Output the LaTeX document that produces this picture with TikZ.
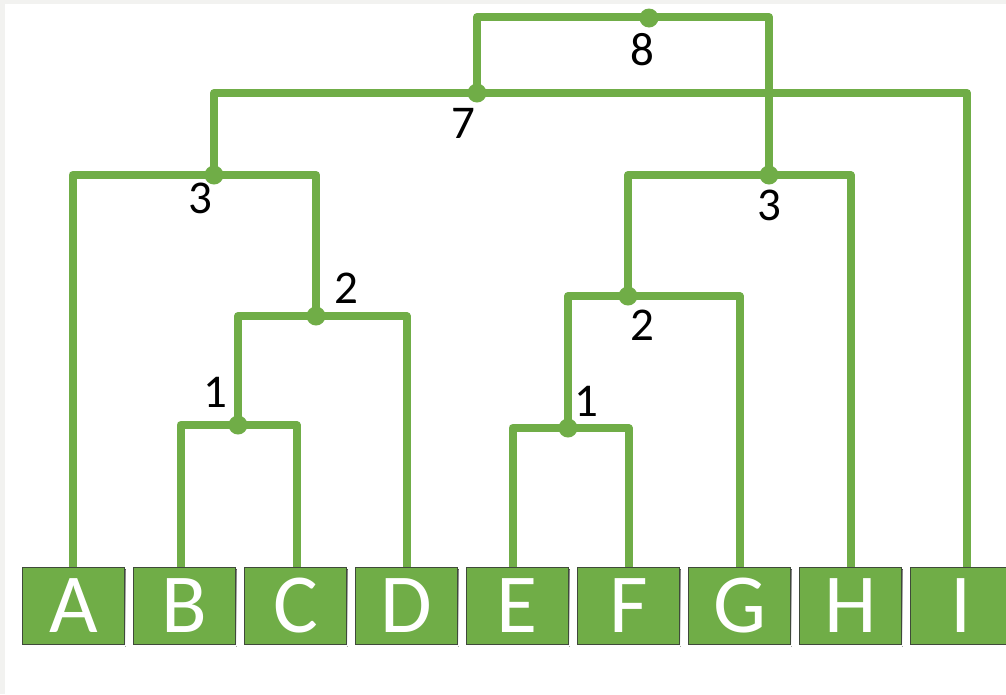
\documentclass[tikz,border=0pt]{standalone}
\usepackage{fontspec}
\setmainfont{Carlito}
\definecolor{leaf}{HTML}{70AD47}
\definecolor{edgegray}{HTML}{3F4A3A}
\definecolor{frame}{HTML}{F2F2F0}
\definecolor{shade}{HTML}{D5DCE6}
\pgfdeclarelayer{paper}
\pgfdeclarelayer{links}
\pgfsetlayers{paper,links,main}
\begin{document}
\begin{tikzpicture}[x=1pt,y=-1pt,
  link/.style={draw=leaf,line width=8pt,line join=round},
  leafbox/.style={rectangle,fill=leaf,draw=edgegray,line width=1.1pt,
    minimum width=101.5pt,minimum height=76.6pt,inner sep=0pt,
    text=white,font=\fontsize{84}{84}\selectfont},
  joint/.style={circle,fill=leaf,inner sep=0pt,minimum size=19pt},
  lvl/.style={font=\fontsize{47}{47}\selectfont,text=black,inner sep=0pt}]
\useasboundingbox (0,0) rectangle (1006,694);
\clip (0,0) rectangle (1006,694);
\begin{pgfonlayer}{paper}
\fill[frame] (0,0) rectangle (1006,694);
\fill[white] (5,4) rectangle (1006,694);
\foreach \i in {0,...,8}{
  \fill[shade] (22.7+111*\i+1.5,569) rectangle (22.7+111*\i+101.5+1.5,646.5);
}
\end{pgfonlayer}
% leaf boxes
\node[leafbox] (A) at (73.5,606) {A};
\node[leafbox] (B) at (184.5,606) {B};
\node[leafbox] (C) at (295.5,606) {C};
\node[leafbox] (D) at (406.5,606) {D};
\node[leafbox] (E) at (517.5,606) {E};
\node[leafbox] (F) at (628.5,606) {F};
\node[leafbox] (G) at (739.5,606) {G};
\node[leafbox] (H) at (850.5,606) {H};
\node[leafbox] (I) at (961.5,606) {I};
% merge points
\node[joint] (m1) at (238,425) {};
\node[joint] (m2) at (316,316) {};
\node[joint] (m3) at (214,175) {};
\node[joint] (m7) at (477,93) {};
\node[joint] (m8) at (649,18) {};
\node[joint] (r1) at (568,428) {};
\node[joint] (r2) at (628,296) {};
\node[joint] (r3) at (769,175) {};
\begin{pgfonlayer}{links}
\draw[link] ([xshift=-4pt]B.north) |- (m1.center) -| ([xshift=1pt]C.north);
\draw[link] (m1.center) |- (m2.center) -| (D.north);
\draw[link] ([xshift=-1pt]A.north) |- (m3.center) -| (m2.center);
\draw[link] (m3.center) |- (m7.center) -| ([xshift=5.5pt]I.north);
\draw[link] ([xshift=-5pt]E.north) |- (r1.center) -| (F.north);
\draw[link] (r1.center) |- (r2.center) -| (G.north);
\draw[link] (r2.center) |- (r3.center) -| (H.north);
\draw[link] (m7.center) |- ([yshift=1pt]m8.center) -| (r3.center);
\end{pgfonlayer}
% level labels
\node[lvl] (l8) at (642.5,50) {8};
\node[lvl] (l7) at (463,123) {7};
\node[lvl] (l3a) at (200.5,198) {3};
\node[lvl] (l2a) at (346,288) {2};
\node[lvl] (l1a) at (215,392.5) {1};
\node[lvl] (l3b) at (769,205) {3};
\node[lvl] (l2b) at (642.5,325) {2};
\node[lvl] (l1b) at (586.7,401) {1};
\end{tikzpicture}
\end{document}
